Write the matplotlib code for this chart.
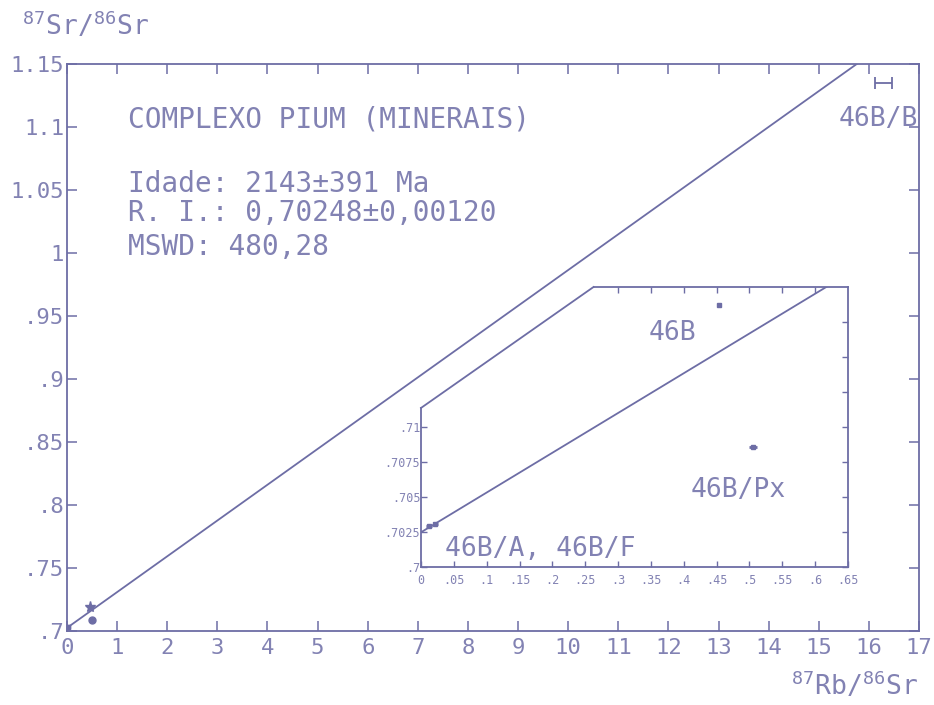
import numpy as np
import matplotlib
matplotlib.use("Agg")
import matplotlib.pyplot as plt
from matplotlib.patches import Polygon
from matplotlib.lines import Line2D

plt.rcParams['font.family'] = ['DejaVu Sans Mono', 'DejaVu Sans']
plt.rcParams['mathtext.fontset'] = 'custom'
plt.rcParams['mathtext.rm'] = 'DejaVu Sans Mono'

# Mineral analyses (87Rb/86Sr, 87Sr/86Sr)
samples = ['46B/A', '46B/F', '46B', '46B/Px', '46B/B']
rb_sr = [0.012, 0.022, 0.454, 0.506, 16.3]
sr_sr = [0.7029, 0.7031, 0.7187, 0.7086, 1.135]
rb_err = [0.004, 0.004, 0.002, 0.006, 0.17]

# Isochron fit
intercept = 0.70248
slope = 0.0284

# Axis ticks
main_xticks = list(range(0, 18))
main_yticks = [0.70, 0.75, 0.80, 0.85, 0.90, 0.95, 1.00, 1.05, 1.10, 1.15]
main_ylabels = ['.7', '.75', '.8', '.85', '.9', '.95', '1', '1.05', '1.1', '1.15']
inset_xticks = [0, .05, .1, .15, .2, .25, .3, .35, .4, .45, .5, .55, .6, .65]
inset_xlabels = ['0', '.05', '.1', '.15', '.2', '.25', '.3', '.35', '.4', '.45',
                 '.5', '.55', '.6', '.65']
inset_yticks = [0.7, 0.7025, 0.705, 0.7075, 0.71]
inset_ylabels = ['.7', '.7025', '.705', '.7075', '.71']
inset_rticks = [0.7, 0.7025, 0.705, 0.7075, 0.71, 0.7125, 0.715, 0.7175]
inset_tticks = [.3, .35, .4, .45, .5, .55, .6]

ink = '#6d6da5'
txt = '#8282b3'

fig = plt.figure(figsize=(9.34, 7.05), dpi=100)
W, H = 934, 705

# ---- main isochron panel ----
ax = fig.add_axes([67 / W, 1 - 631 / H, (919 - 67) / W, (631 - 64) / H])
ax.set_xlim(0, 17)
ax.set_ylim(0.7, 1.15)
for s in ax.spines.values():
    s.set_color(ink)
    s.set_linewidth(1.3)
ax.set_xticks(main_xticks)
ax.set_xticklabels([str(t) for t in main_xticks])
ax.set_yticks(main_yticks)
ax.set_yticklabels(main_ylabels)
ax.tick_params(direction='in', length=7, width=1.1, color=ink, labelcolor=txt,
               labelsize=16, top=True, right=True)
ax.tick_params(axis='x', pad=5)
ax.tick_params(axis='y', pad=2)

xs = np.array([0, 17])
ax.plot(xs, intercept + slope * xs, color=ink, lw=1.3)

# 46B/B with horizontal error bar
ax.errorbar(rb_sr[4], sr_sr[4], xerr=rb_err[4], fmt='none', ecolor=ink,
            elinewidth=1.3, capsize=4, capthick=1.3)
ax.plot(rb_sr[2], sr_sr[2], marker='*', ms=8, color=ink, ls='none')
ax.plot(rb_sr[3], sr_sr[3], marker='o', ms=5, color=ink, ls='none')
ax.plot(rb_sr[:2], sr_sr[:2], marker='s', ms=3, color=ink, ls='none')

ax.text(16.98, 1.106, samples[4], color=txt, fontsize=19, ha='right', va='center')
ax.text(1.22, 1.1056, 'COMPLEXO PIUM (MINERAIS)', color=txt, fontsize=20, va='center')
ax.text(1.22, 1.0545, 'Idade: 2143±391 Ma', color=txt, fontsize=20, va='center')
ax.text(1.22, 1.0315, 'R. I.: 0,70248±0,00120', color=txt, fontsize=20, va='center')
ax.text(1.22, 1.0045, 'MSWD: 480,28', color=txt, fontsize=20, va='center')

fig.text(22 / W, 1 - 26 / H, r'$^{87}\mathrm{Sr/}^{86}\mathrm{Sr}$', color=txt,
         fontsize=19, ha='left', va='center')
fig.text(918 / W, 1 - 686 / H, r'$^{87}\mathrm{Rb/}^{86}\mathrm{Sr}$', color=txt,
         fontsize=19, ha='right', va='center')

# ---- enlarged view of the low-Rb minerals ----
axin = fig.add_axes([421 / W, 1 - 567 / H, (848 - 421) / W, (567 - 287) / H])
axin.set_xlim(0, 0.65)
axin.set_ylim(0.7, 0.72)
axin.patch.set_visible(False)
cut_x, cut_y = 0.404, 0.568
axin.add_patch(Polygon([(0, 0), (1, 0), (1, 1), (cut_x, 1), (0, cut_y)],
                       closed=True, transform=axin.transAxes, facecolor='white',
                       edgecolor='none', zorder=0))
for s in axin.spines.values():
    s.set_color(ink)
    s.set_linewidth(1.3)
axin.spines['left'].set_bounds(0.7, 0.7 + cut_y * 0.02)
axin.spines['top'].set_bounds(cut_x * 0.65, 0.65)
axin.add_line(Line2D([0, cut_x], [cut_y, 1], transform=axin.transAxes,
                     color=ink, lw=1.3, clip_on=False))

axin.set_xticks(inset_xticks)
axin.set_xticklabels(inset_xlabels)
axin.set_yticks(inset_yticks)
axin.set_yticklabels(inset_ylabels)
axin.tick_params(direction='in', length=4.5, width=1, color=ink, labelcolor=txt,
                 labelsize=8.5, top=False, right=False)
axin.tick_params(axis='x', pad=5)
axin.tick_params(axis='y', pad=0.5)

sec_r = axin.secondary_yaxis('right')
sec_r.set_yticks(inset_rticks)
sec_r.set_yticklabels([])
sec_r.tick_params(direction='in', length=4.5, width=1, color=ink)
sec_r.spines['right'].set_visible(False)

sec_t = axin.secondary_xaxis('top')
sec_t.set_xticks(inset_tticks)
sec_t.set_xticklabels([])
sec_t.tick_params(direction='in', length=4.5, width=1, color=ink)
sec_t.spines['top'].set_visible(False)

xi = np.array([0, 0.65])
axin.plot(xi, intercept + slope * xi, color=ink, lw=1.3)
axin.errorbar(rb_sr[:4], sr_sr[:4], xerr=rb_err[:4], fmt='s', ms=2.5,
              color=ink, ecolor=ink, elinewidth=2, capsize=0)

axin.text(0.346, 0.7167, samples[2], color=txt, fontsize=19, va='center')
axin.text(0.410, 0.7055, samples[3], color=txt, fontsize=19, va='center')
axin.text(0.036, 0.7013, samples[0] + ', ' + samples[1], color=txt, fontsize=19,
          va='center')

fig.savefig('out.png', dpi=100, facecolor='white')
